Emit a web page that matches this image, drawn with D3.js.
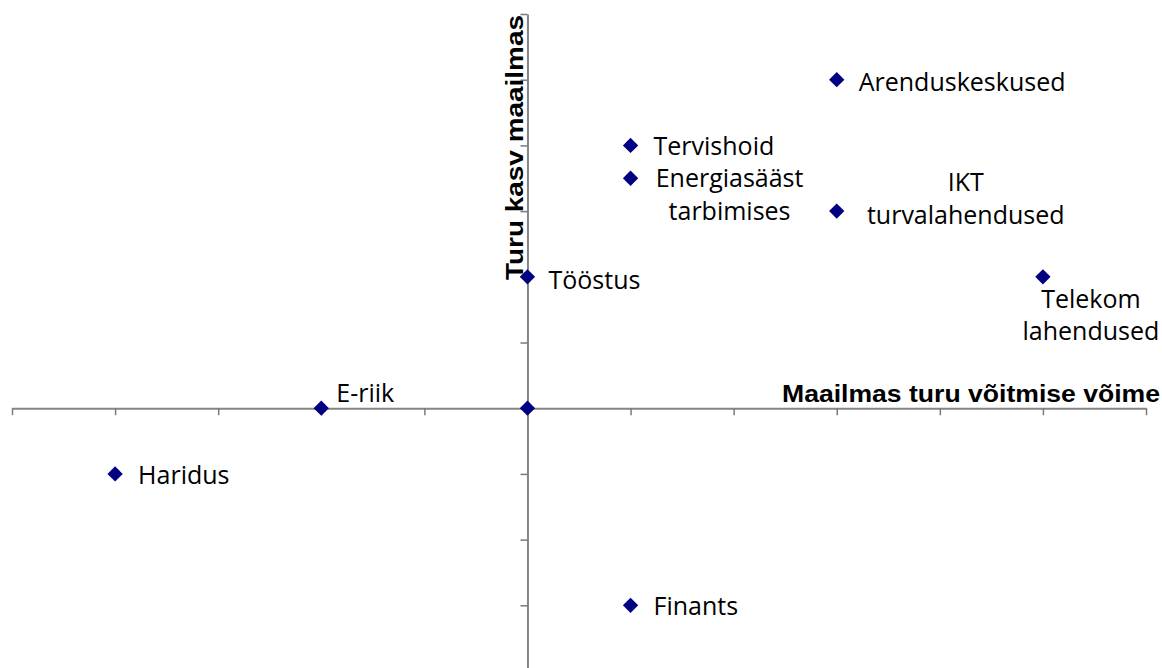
<!DOCTYPE html>
<html>
<head>
<meta charset="utf-8">
<script src="https://cdn.jsdelivr.net/npm/d3@7"></script>
<style>
  body { margin: 0; background: #fff; }
  .label { font-family: "Open Sans", sans-serif; font-size: 25px; fill: #000; }
  .title { font-family: "Liberation Sans", Arial, sans-serif; font-size: 24px; font-weight: bold; fill: #000; }
</style>
</head>
<body>
<div id="chart"></div>
<script>
// sectors and their position on the two axes
const sectors = ['Arenduskeskused', 'Tervishoid', 'Energiasääst tarbimises', 'IKT turvalahendused',
    'Telekom lahendused', 'Tööstus', 'E-riik', 'Haridus', 'Finants', ''];
const winAbility = [3, 1, 1, 3, 5, 0, -2, -4, 1, 0];   // Maailmas turu võitmise võime
const marketGrowth = [5, 4, 3.5, 3, 2, 2, 0, -1, -3, 0]; // Turu kasv maailmas
const xTicks = d3.range(-5, 7);
const yTicks = d3.range(-4, 7);

const [svgWidth, svgHeight] = [1162, 668];

// how each label sits next to its point: [dx, dy, anchor, lines]
const labelPlace = {
    'Arenduskeskused': [22, 11, 'start', ['Arenduskeskused']],
    'Tervishoid': [23, 10, 'start', ['Tervishoid']],
    'Energiasääst tarbimises': [99, 9, 'middle', ['Energiasääst', 'tarbimises']],
    'IKT turvalahendused': [129, -20, 'middle', ['IKT', 'turvalahendused']],
    'Telekom lahendused': [48, 31, 'middle', ['Telekom', 'lahendused']],
    'Tööstus': [21, 12, 'start', ['Tööstus']],
    'E-riik': [15, -6, 'start', ['E-riik']],
    'Haridus': [23, 10, 'start', ['Haridus']],
    'Finants': [23, 10, 'start', ['Finants']]
};

let svg = d3.select('#chart').append('svg')
    .attr('width', svgWidth)
    .attr('height', svgHeight);

let xScale = d3.scaleLinear().domain([-5, 6]).range([12, 1146]);
let yScale = d3.scaleLinear().domain([-4, 6]).range([671, 14]);

function translate(x, y) {
    return 'translate(' + x + ',' + y + ')';
}

let xAxis = svg.append('g')
    .attr('transform', translate(0, yScale(0)))
    .call(d3.axisBottom(xScale).tickValues(xTicks).tickSize(7).tickSizeOuter(0).tickFormat(''));
let yAxis = svg.append('g')
    .attr('transform', translate(xScale(0), 0))
    .call(d3.axisLeft(yScale).tickValues(yTicks.filter(d => d !== 0)).tickSize(7).tickSizeOuter(0).tickFormat(''));

[xAxis, yAxis].forEach(ax => {
    ax.select('.domain').attr('stroke', '#858585').attr('stroke-width', 2);
    ax.selectAll('.tick line').attr('stroke', '#7a7a7a').attr('stroke-width', 1.5);
});

const data = sectors.map((s, i) => ({ name: s, x: winAbility[i], y: marketGrowth[i] }));

svg.selectAll('.dot')
    .data(data)
    .enter().append('path')
    .attr('class', 'dot')
    .attr('d', d3.symbol().type(d3.symbolDiamond2).size(150))
    .attr('transform', d => translate(xScale(d.x), yScale(d.y)))
    .attr('fill', '#000080');

let labels = svg.selectAll('.label')
    .data(data.filter(d => labelPlace[d.name]))
    .enter().append('text')
    .attr('class', 'label')
    .attr('text-anchor', d => labelPlace[d.name][2])
    .attr('transform', d => translate(xScale(d.x) + labelPlace[d.name][0], yScale(d.y) + labelPlace[d.name][1]));

labels.selectAll('tspan')
    .data(d => labelPlace[d.name][3])
    .enter().append('tspan')
    .attr('x', 0)
    .attr('dy', (d, i) => i === 0 ? 0 : 32.5)
    .text(d => d);

// axis titles
svg.append('text')
    .attr('class', 'title')
    .attr('x', 782).attr('y', 402)
    .attr('textLength', 378)
    .attr('lengthAdjust', 'spacingAndGlyphs')
    .text('Maailmas turu võitmise võime');

svg.append('text')
    .attr('class', 'title')
    .attr('transform', translate(523, 280) + ' rotate(-90)')
    .attr('textLength', 265)
    .attr('lengthAdjust', 'spacingAndGlyphs')
    .text('Turu kasv maailmas');
</script>
</body>
</html>
